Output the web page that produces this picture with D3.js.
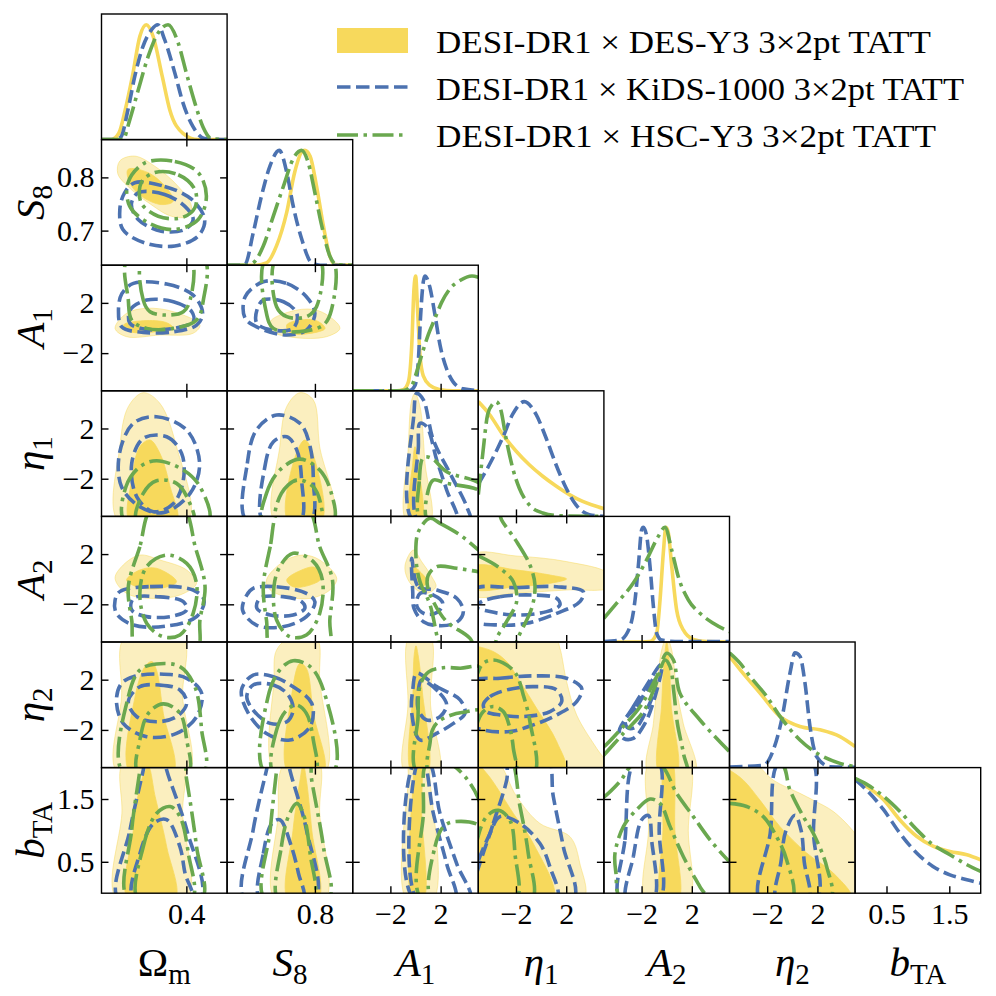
<!DOCTYPE html>
<html>
<head>
<meta charset="utf-8">
<script src="https://cdn.jsdelivr.net/npm/d3@7"></script>
<style>
  body { margin: 0; background: #fff; }
  svg text { font-family: "Liberation Serif", "DejaVu Serif", serif; fill: #000; }
</style>
</head>
<body>
<div id="chart"></div>
<script>
// corner plot, 7 parameters
var svgWidth = 996;
var svgHeight = 996;
var panel = 125.6;
var left0 = 101.5;
var top0 = 14;

var params = ["om", "s8", "a1", "eta1", "a2", "eta2", "bta"];
var domains = {
  om: [0.15, 0.52], s8: [0.635, 0.871], a1: [-5, 5], eta1: [-5, 5],
  a2: [-5, 5], eta2: [-5, 5], bta: [0, 2]
};
var xTicks = { om: [0.4], s8: [0.8], a1: [-2, 2], eta1: [-2, 2], a2: [-2, 2], eta2: [-2, 2], bta: [0.5, 1.5] };
var yTicks = { s8: [0.7, 0.8], a1: [-2, 2], eta1: [-2, 2], a2: [-2, 2], eta2: [-2, 2], bta: [0.5, 1.5] };

var legendLabels = [
  "DESI-DR1 \u00d7 DES-Y3 3\u00d72pt TATT",
  "DESI-DR1 \u00d7 KiDS-1000 3\u00d72pt TATT",
  "DESI-DR1 \u00d7 HSC-Y3 3\u00d72pt TATT"
];

// 1D marginals, [value, relative density]
var margOm = {
  des: [[0.15,0],[0.179,0],[0.201,0.055],[0.220,0.26],[0.241,0.55],[0.263,0.9],[0.282,1],[0.302,0.9],[0.329,0.55],[0.351,0.26],[0.390,0.055],[0.434,0],[0.52,0]],
  kids: [[0.15,0],[0.194,0],[0.208,0.026],[0.228,0.26],[0.248,0.55],[0.272,0.81],[0.297,0.955],[0.316,1],[0.336,0.87],[0.366,0.58],[0.390,0.32],[0.420,0.11],[0.454,0.01],[0.52,0]],
  hsc: [[0.15,0],[0.213,0],[0.233,0.17],[0.258,0.43],[0.287,0.72],[0.316,0.925],[0.346,1],[0.375,0.85],[0.400,0.58],[0.425,0.32],[0.449,0.11],[0.473,0.01],[0.52,0]]
};
var margS8 = {
  des: [[0.635,0],[0.690,0],[0.709,0.02],[0.728,0.17],[0.747,0.46],[0.762,0.81],[0.775,0.985],[0.781,1],[0.791,0.95],[0.803,0.69],[0.816,0.34],[0.828,0.08],[0.838,0.005],[0.871,0]],
  kids: [[0.635,0],[0.660,0],[0.669,0.01],[0.684,0.28],[0.700,0.61],[0.716,0.87],[0.733,1],[0.747,0.81],[0.759,0.52],[0.775,0.23],[0.794,0.02],[0.810,0],[0.871,0]],
  hsc: [[0.635,0],[0.670,0],[0.684,0.02],[0.703,0.167],[0.722,0.43],[0.741,0.69],[0.759,0.925],[0.775,1],[0.787,0.9],[0.800,0.63],[0.813,0.34],[0.828,0.08],[0.841,0.005],[0.871,0]]
};
var margA1 = {
  des: [[-5,0],[-1.5,0],[-0.97,0.01],[-0.57,0.076],[-0.30,0.395],[-0.12,0.89],[0.01,1],[0.17,0.69],[0.36,0.31],[0.62,0.13],[1.15,0.047],[1.95,0.01],[3,0],[5,0]],
  kids: [[-5,0],[-1,0],[-0.44,0.003],[-0.04,0.047],[0.22,0.25],[0.41,0.66],[0.62,0.95],[0.75,1],[1.15,0.9],[1.55,0.66],[1.95,0.4],[2.48,0.19],[3.01,0.076],[3.80,0.017],[5,0.003]],
  hsc: [[-5,0],[-1.5,0],[-0.97,0.003],[-0.30,0.047],[0.09,0.163],[0.49,0.31],[1.02,0.49],[1.55,0.63],[2.08,0.77],[2.75,0.89],[3.54,0.96],[4.5,1],[5,0.99]]
};
var margEta1 = {
  des: [[-5,1],[-4.12,0.89],[-3.06,0.714],[-2.0,0.57],[-0.94,0.45],[0.13,0.35],[1.19,0.265],[2.25,0.19],[3.31,0.13],[5,0.067]],
  kids: [[-5,0.28],[-4.12,0.45],[-3.06,0.685],[-2.26,0.89],[-1.34,1],[-0.41,0.89],[0.39,0.685],[1.19,0.45],[1.98,0.25],[2.78,0.1],[3.84,0.015],[5,0]],
  hsc: [[-5,0.19],[-4.65,0.54],[-4.25,0.89],[-3.85,0.98],[-3.59,1],[-3.19,0.92],[-2.80,0.685],[-2.26,0.42],[-1.74,0.247],[-0.94,0.1],[0.13,0.03],[1.45,0.006],[5,0]]
};
var margA2 = {
  des: [[-5,0],[-2,0],[-1.33,0.003],[-0.80,0.076],[-0.53,0.367],[-0.27,0.775],[-0.06,1],[0.13,0.95],[0.40,0.66],[0.79,0.28],[1.32,0.105],[2.12,0.023],[3.18,0.003],[5,0]],
  kids: [[-5,0.003],[-3.72,0.017],[-2.92,0.134],[-2.52,0.367],[-2.26,0.66],[-1.99,0.98],[-1.86,1],[-1.59,0.92],[-1.33,0.66],[-1.06,0.31],[-0.80,0.076],[-0.40,0.017],[1.06,0.003],[5,0.003]],
  hsc: [[-5,0.207],[-3.98,0.338],[-2.66,0.513],[-1.59,0.717],[-0.67,0.92],[-0.14,1],[0.40,0.80],[0.92,0.57],[1.72,0.367],[2.65,0.25],[3.71,0.163],[5,0.09]]
};
var margEta2 = {
  des: [[-5,0.97],[-4.16,0.854],[-2.57,0.65],[-0.98,0.446],[0.61,0.358],[2.2,0.329],[3.8,0.27],[5,0.183]],
  kids: [[-5,0.005],[-2.31,0.02],[-1.51,0.154],[-0.85,0.416],[-0.18,0.825],[0.21,1],[0.61,0.97],[1.01,0.737],[1.41,0.358],[1.94,0.095],[3.0,0.008],[5,0.003]],
  hsc: [[-5,1],[-4.16,0.91],[-3.37,0.795],[-2.04,0.62],[-0.98,0.446],[0.61,0.241],[2.2,0.11],[3.8,0.037],[5,0.008]]
};
var margBta = {
  des: [[0,0.99],[0.18,0.93],[0.45,0.816],[0.71,0.64],[0.98,0.496],[1.24,0.41],[1.51,0.364],[1.78,0.335],[2,0.29]],
  kids: [[0,0.99],[0.18,0.90],[0.45,0.73],[0.71,0.525],[0.98,0.35],[1.24,0.233],[1.51,0.16],[1.78,0.117],[2,0.087]],
  hsc: [[0,1],[0.18,0.95],[0.45,0.845],[0.71,0.714],[0.98,0.554],[1.24,0.423],[1.51,0.335],[1.78,0.248],[2,0.19]]
};

// 2D contours [95%, 68%] per dataset, points are [column param, row param]
var S8_Om = {
  des: [[[0.204,0.831],[0.248,0.840],[0.307,0.821],[0.376,0.783],[0.415,0.746],[0.405,0.727],[0.356,0.727],[0.287,0.753],[0.228,0.783],[0.198,0.807]],
        [[0.228,0.815],[0.287,0.809],[0.346,0.777],[0.361,0.755],[0.326,0.749],[0.267,0.765],[0.233,0.790]]],
  kids: [[[0.248,0.790],[0.336,0.783],[0.415,0.759],[0.454,0.721],[0.435,0.690],[0.366,0.671],[0.277,0.677],[0.213,0.702],[0.204,0.740],[0.218,0.771]],
         [[0.258,0.771],[0.336,0.768],[0.395,0.746],[0.420,0.721],[0.395,0.702],[0.326,0.699],[0.258,0.721],[0.238,0.749]]],
  hsc: [[[0.277,0.827],[0.366,0.830],[0.435,0.809],[0.459,0.765],[0.435,0.721],[0.366,0.702],[0.287,0.715],[0.233,0.746],[0.228,0.790]],
        [[0.307,0.809],[0.376,0.805],[0.425,0.777],[0.425,0.743],[0.385,0.724],[0.317,0.727],[0.267,0.752],[0.267,0.790]]]
};
var A1_Om = {
  des: [[[0.190,-0.03],[0.224,1.17],[0.283,1.57],[0.362,1.30],[0.440,0.24],[0.420,-0.42],[0.322,-0.56],[0.224,-0.69]],
        [[0.215,0.24],[0.273,0.58],[0.342,0.42],[0.362,-0.03],[0.312,-0.29],[0.234,-0.29]]],
  kids: [[[0.244,3.55],[0.342,3.50],[0.420,2.62],[0.448,1.16],[0.430,0.23],[0.362,-0.30],[0.273,-0.35],[0.210,0.07],[0.200,1.40],[0.210,2.73]],
         [[0.283,2.22],[0.362,2.09],[0.416,1.30],[0.420,0.50],[0.362,-0.03],[0.283,-0.11],[0.234,0.37],[0.234,1.43]]],
  hsc: [[[0.229,5.6],[0.229,2.22],[0.239,0.63],[0.283,-0.03],[0.362,-0.03],[0.430,0.63],[0.450,2.22],[0.450,5.6]],
        [[0.273,5.6],[0.273,2.22],[0.293,1.30],[0.342,1.03],[0.391,1.30],[0.411,2.22],[0.411,5.6]]]
};
var A1_S8 = {
  des: [[[0.716,0.50],[0.753,1.30],[0.797,1.48],[0.828,0.90],[0.847,-0.03],[0.822,-0.69],[0.759,-0.75],[0.722,-0.30]],
        [[0.747,0.24],[0.772,0.63],[0.803,0.58],[0.819,-0.03],[0.791,-0.43],[0.753,-0.38]]],
  kids: [[[0.703,3.68],[0.747,3.55],[0.784,2.49],[0.800,1.16],[0.784,-0.17],[0.747,-0.56],[0.697,-0.03],[0.669,0.77],[0.669,2.49]],
         [[0.703,2.22],[0.741,2.09],[0.766,1.16],[0.759,-0.03],[0.722,-0.17],[0.691,0.37],[0.691,1.43]]],
  hsc: [[[0.709,5.6],[0.709,1.16],[0.722,-0.03],[0.772,-0.29],[0.816,0.24],[0.831,1.43],[0.831,5.6]],
        [[0.728,5.6],[0.728,1.69],[0.747,0.90],[0.784,0.90],[0.803,1.69],[0.808,5.6]]]
};
var Eta1_Om = {
  des: [[[0.200,-5.4],[0.204,0.55],[0.229,3.74],[0.273,4.85],[0.322,4.0],[0.371,0.55],[0.405,-5.4]],
        [[0.234,-5.4],[0.239,-2.1],[0.263,0.55],[0.293,1.08],[0.322,0.02],[0.352,-2.63],[0.371,-5.4]]],
  kids: [[[0.244,2.41],[0.312,2.94],[0.401,1.88],[0.439,-0.78],[0.411,-3.17],[0.332,-4.7],[0.263,-4.23],[0.209,-2.64],[0.203,0.02]],
         [[0.273,1.21],[0.342,1.34],[0.386,0.02],[0.391,-2.11],[0.362,-3.97],[0.303,-4.63],[0.254,-3.44],[0.239,-0.78]]],
  hsc: [[[0.219,-5.4],[0.222,-2.64],[0.263,-1.05],[0.312,-0.57],[0.391,-1.31],[0.440,-2.64],[0.465,-5.4]],
        [[0.254,-5.4],[0.273,-3.17],[0.312,-2.16],[0.371,-2.37],[0.406,-3.7],[0.420,-5.4]]]
};
var Eta1_S8 = {
  des: [[[0.725,-5.4],[0.734,0.55],[0.747,3.74],[0.772,4.85],[0.797,4.27],[0.809,0.55],[0.834,-5.4]],
        [[0.750,-5.4],[0.759,-0.78],[0.781,1.08],[0.800,-0.51],[0.812,-5.4]]],
  kids: [[[0.672,-5.4],[0.673,-0.78],[0.690,1.88],[0.728,3.07],[0.772,2.41],[0.791,0.55],[0.797,-2.11],[0.791,-5.4]],
         [[0.703,-5.4],[0.706,-1.04],[0.722,0.94],[0.747,1.34],[0.766,0.28],[0.775,-2.11],[0.772,-5.4]]],
  hsc: [[[0.703,-5.4],[0.709,-3.17],[0.734,-1.31],[0.772,-0.44],[0.809,-1.31],[0.831,-3.17],[0.834,-5.4]],
        [[0.728,-5.4],[0.737,-3.17],[0.766,-2.11],[0.797,-2.64],[0.812,-4.23],[0.812,-5.4]]]
};
var Eta1_A1 = {
  des: [[[-0.7,-5.4],[-0.57,0.55],[-0.3,4.27],[-0.04,4.8],[0.36,3.74],[0.76,-0.77],[1.16,-5.4]],
        [[-0.44,-5.4],[-0.22,-0.77],[-0.04,0.55],[0.23,-1.04],[0.49,-5.4]]],
  kids: [[[-0.17,-5.4],[-0.12,3.2],[0.1,4.8],[0.63,4.27],[1.42,1.08],[2.75,-1.57],[4.08,-4.23],[4.34,-5.4]],
         [[0.23,-5.4],[0.23,0.55],[0.36,2.41],[0.89,2.14],[1.69,-0.51],[2.48,-2.9],[3.28,-5.4]]],
  hsc: [[[0.49,-5.4],[0.31,-2.11],[0.63,-0.3],[1.29,-0.38],[2.48,-1.44],[5.4,-2.63],[5.4,-5.4]],
        [[1.02,-5.4],[1.02,-2.9],[1.42,-2.11],[2.48,-2.37],[5.4,-3.17],[5.4,-5.4]]]
};
var A2_Om = {
  des: [[[0.190,0.07],[0.214,1.13],[0.263,1.92],[0.322,1.53],[0.401,0.73],[0.430,-0.33],[0.381,-1.26],[0.303,-1.53],[0.224,-1.13]],
        [[0.224,-0.06],[0.263,0.73],[0.312,0.87],[0.371,-0.2],[0.322,-0.73],[0.254,-0.6]]],
  kids: [[[0.204,-0.99],[0.293,-0.59],[0.420,-0.86],[0.452,-1.66],[0.430,-2.98],[0.342,-3.73],[0.244,-3.65],[0.194,-2.72],[0.190,-1.66]],
         [[0.244,-1.52],[0.312,-1.39],[0.391,-1.79],[0.401,-2.45],[0.362,-2.93],[0.283,-2.98],[0.239,-2.45]]],
  hsc: [[[0.298,5.6],[0.263,2.59],[0.229,-0.6],[0.239,-3.25],[0.254,-5.6],[0.430,-5.6],[0.440,-3.25],[0.455,-0.6],[0.426,2.59],[0.391,5.6]],
        [[0.342,1.92],[0.401,1.26],[0.430,-0.33],[0.420,-2.72],[0.381,-4.44],[0.332,-4.58],[0.283,-3.51],[0.263,-1.13],[0.283,0.99]]]
};
var A2_S8 = {
  des: [[[0.709,-0.06],[0.741,1.4],[0.778,1.92],[0.809,1.53],[0.841,0.07],[0.828,-0.86],[0.791,-1.53],[0.747,-1.39],[0.716,-0.86]],
        [[0.747,-0.06],[0.775,0.73],[0.800,0.94],[0.812,0.07],[0.791,-0.46],[0.759,-0.6]]],
  kids: [[[0.684,-0.73],[0.728,-0.6],[0.784,-1.13],[0.800,-1.79],[0.784,-2.98],[0.740,-3.78],[0.690,-3.65],[0.664,-2.45],[0.672,-1.26]],
         [[0.697,-1.52],[0.740,-1.39],[0.775,-1.79],[0.781,-2.32],[0.759,-2.85],[0.716,-2.85],[0.691,-2.32]]],
  hsc: [[[0.734,5.6],[0.716,2.59],[0.703,-0.6],[0.709,-3.25],[0.719,-5.6],[0.825,-5.6],[0.828,-3.25],[0.833,-0.06],[0.809,2.59],[0.787,5.6]],
        [[0.759,2.06],[0.797,1.4],[0.814,-0.06],[0.809,-2.72],[0.784,-4.44],[0.753,-4.58],[0.728,-3.25],[0.723,-0.6],[0.734,0.99]]]
};
var A2_A1 = {
  des: [[[-0.17,2.32],[0.49,1.4],[1.29,0.2],[1.63,-0.6],[0.89,-1.13],[0.1,-0.86],[-0.65,0.07],[-0.83,1.13]],
        [[-0.3,1.13],[0.23,0.73],[0.94,-0.2],[0.41,-0.6],[-0.22,0.07]]],
  kids: [[[-0.3,1.66],[0.23,-0.6],[1.69,-0.86],[3.28,-1.52],[3.81,-2.58],[3.28,-3.43],[1.95,-3.7],[0.63,-3.38],[-0.12,-2.32],[-0.22,-1.0]],
         [[0.36,-1.13],[1.42,-1.26],[2.17,-1.92],[1.74,-2.64],[0.76,-2.77],[0.1,-2.11]]],
  hsc: [[[1.16,4.85],[1.95,4.45],[3.55,3.52],[5.0,2.33],[6.5,1.0],[6.5,-6],[2.2,-6],[1.82,-4.97],[1.16,-2.05],[0.36,-0.2],[0.04,1.66],[0.23,3.78]],
        [[1.02,0.33],[1.69,1.0],[3.28,0.87],[5.0,0.6],[6.5,0.4],[6.5,-6],[5.0,-6],[4.34,-4.71],[2.48,-3.38],[1.42,-1.79],[0.94,-0.46]]]
};
var A2_Eta1 = {
  des: [[[-5.4,1.95],[-2,1.85],[2.03,1.4],[5.4,0.4],[5.4,-0.65],[2.03,-0.86],[-2,-1.1],[-5.4,-1.26]],
        [[-5.4,1.0],[-1.95,0.73],[0.71,0.33],[2.03,0.02],[0.71,-0.33],[-1.95,-0.6],[-5.4,-0.73]]],
  kids: [[[-5.4,-0.86],[-1.95,-0.67],[1.24,-0.6],[3.36,-0.99],[3.09,-1.79],[1.24,-2.72],[-1.15,-3.51],[-3.27,-3.65],[-5.4,-3.25]],
         [[-4.73,-1.79],[-3.27,-1.39],[-0.62,-1.26],[1.24,-1.52],[1.5,-2.05],[0.44,-2.58],[-1.95,-2.85],[-4.07,-2.58],[-5.2,-2.2]]],
  hsc: [[[-3.14,4.71],[-1.95,2.99],[-0.89,1.13],[-0.49,-0.46],[-0.75,-2.32],[-1.95,-4.97],[-2.1,-6],[-6,-6],[-6,5.6],[-3.5,5.6]],
        [[-5.4,2.0],[-4.87,1.79],[-3.27,0.87],[-2.21,-0.2],[-1.95,-1.79],[-2.75,-3.38],[-3.54,-4.71],[-3.8,-6],[-6,-6],[-6,2.0]]]
};
var Eta2_Om = {
  des: [[[0.197,-5.4],[0.209,0.65],[0.219,5.4],[0.389,5.4],[0.389,0.65],[0.406,-5.4]],
        [[0.234,-5.4],[0.249,0.65],[0.278,3.04],[0.298,3.44],[0.312,2.77],[0.332,-0.68],[0.361,-5.4]]],
  kids: [[[0.244,2.24],[0.322,2.45],[0.401,2.11],[0.445,0.91],[0.430,-0.95],[0.371,-2.28],[0.283,-2.54],[0.214,-1.48],[0.194,0.38],[0.209,1.71]],
         [[0.263,1.44],[0.322,1.57],[0.381,1.18],[0.401,0.12],[0.371,-0.95],[0.312,-1.35],[0.254,-0.95],[0.229,0.25]]],
  hsc: [[[0.214,-5.4],[0.229,0.65],[0.263,2.77],[0.312,3.25],[0.381,3.04],[0.425,1.44],[0.445,-2.01],[0.450,-5.4]],
        [[0.258,-5.4],[0.263,-2.81],[0.288,-0.68],[0.332,0.07],[0.381,-0.68],[0.401,-2.81],[0.406,-5.4]]]
};
var Eta2_S8 = {
  des: [[[0.725,-5.4],[0.723,1.98],[0.728,4.37],[0.753,5.3],[0.803,5.3],[0.809,1.98],[0.819,-5.4]],
        [[0.750,-5.4],[0.756,0.65],[0.772,3.3],[0.784,2.9],[0.797,-0.68],[0.816,-5.4]]],
  kids: [[[0.684,2.37],[0.722,2.24],[0.759,1.44],[0.794,0.12],[0.791,-1.74],[0.753,-2.81],[0.709,-2.28],[0.675,-0.68],[0.662,1.18]],
         [[0.684,1.58],[0.722,1.58],[0.750,0.78],[0.759,-0.42],[0.747,-1.35],[0.716,-1.48],[0.684,-0.42],[0.672,0.65]]],
  hsc: [[[0.706,-5.4],[0.712,0.65],[0.734,2.77],[0.759,3.51],[0.791,3.04],[0.816,1.18],[0.834,-5.4]],
        [[0.722,-5.4],[0.728,-2.01],[0.747,-0.42],[0.766,-0.02],[0.784,-0.68],[0.797,-2.81],[0.800,-5.4]]]
};
var Eta2_A1 = {
  des: [[[-0.83,-5.4],[-0.6,0],[-0.49,5.4],[1.16,5.4],[1.2,0],[1.82,-5.4]],
        [[-0.3,-5.4],[-0.2,1.0],[-0.1,4.0],[0.04,4.7],[0.2,4.0],[0.55,1.0],[0.94,-5.4]]],
  kids: [[[0.1,2.51],[1.69,1.45],[3.55,0.39],[3.94,-0.68],[3.02,-1.48],[1.69,-2.27],[0.36,-2.8],[-0.3,-0.68],[-0.22,1.18]],
         [[0.49,1.97],[1.95,0.91],[2.48,-0.01],[1.95,-0.94],[0.89,-1.21],[0.23,-0.41],[0.23,1.18]]],
  hsc: [[[0.15,-5.4],[0.2,-1.0],[0.36,1.5],[1.02,2.6],[2.2,2.95],[3.55,2.91],[5.4,2.91],[5.4,-5.4]],
        [[1.1,-5.4],[1.16,-3.0],[1.35,-2.0],[1.82,-1.34],[2.75,-0.85],[3.81,-0.6],[5.4,-0.54],[5.4,-5.4]]]
};
var Eta2_Eta1 = {
  des: [[[-5.4,5.4],[1.1,5.4],[1.5,4.5],[2.03,1.85],[2.83,-0.81],[4.42,-3.46],[5.2,-4.6],[5.4,-5.6],[-5.4,-5.6]],
        [[-5.4,4.7],[-5.0,4.63],[-3.81,4.24],[-2.74,3.44],[-1.68,1.85],[-0.36,-0.28],[1.24,-2.93],[1.9,-5.4],[-5.4,-5.6]]],
  kids: [[[-5.4,1.85],[-3.27,2.11],[-0.62,2.3],[2.03,2.11],[3.23,1.32],[2.83,0.25],[1.24,-0.81],[-0.62,-1.6],[-2.48,-2.13],[-4.6,-2.0],[-5.4,-1.6]],
         [[-4.6,-0.01],[-4.07,0.65],[-2.74,1.18],[-0.62,1.45],[1.24,1.18],[1.64,0.25],[0.71,-0.54],[-1.42,-0.94],[-3.27,-0.81],[-4.34,-0.54]]],
  hsc: [[[-5.4,-5.6],[-5.3,1.5],[-5.0,2.64],[-4.6,3.31],[-3.81,3.57],[-2.74,3.17],[-1.95,2.38],[-1.42,0.79],[-0.89,-1.34],[-0.62,-5.6]],
        [[-5.4,-5.6],[-5.2,-1.87],[-4.6,-0.54],[-3.81,-0.14],[-3.01,-0.54],[-2.48,-1.87],[-2.21,-3.46],[-2.08,-5.6]]]
};
var Eta2_A2 = {
  des: [[[-1.46,-5.4],[-1.06,-1.48],[-0.8,1.18],[-0.4,4.36],[0.0,5.4],[0.4,4.36],[0.79,1.18],[1.32,-1.48],[2.25,-5.4]],
        [[-0.59,-5.4],[-0.4,0.0],[-0.2,3.5],[0.0,5.0],[0.2,3.5],[0.35,0.0],[0.79,-5.4]]],
  kids: [[[-3.72,-1.87],[-2.66,-0.15],[-1.33,1.97],[-0.53,3.17],[-0.4,3.17],[-0.93,0.65],[-1.73,-1.48],[-2.66,-2.67],[-3.45,-2.67],[-3.77,-2.14]],
         [[-3.32,-1.21],[-2.39,-0.15],[-1.6,1.18],[-0.93,2.24],[-1.06,0.91],[-1.73,-0.68],[-2.39,-1.74],[-3.05,-1.87]]],
  hsc: [[[-5.6,-3.8],[-5.0,-3.34],[-3.72,-2.01],[-2.12,-0.15],[-0.8,2.24],[0.0,4.1],[0.53,3.57],[1.06,0.91],[2.65,-1.21],[5.0,-3.73],[5.6,-4.3],[5.6,-5.8],[-5.6,-5.8]],
        [[-5.6,-4.6],[-5.0,-4.0],[-3.45,-2.27],[-1.86,-0.55],[-0.93,1.44],[-0.13,3.57],[0.27,3.04],[0.58,0.91],[0.85,-1.48],[1.33,-3.86],[1.6,-5.8],[-5.6,-5.8]]]
};
var Bta_Om = {
  des: [[[0.195,-0.1],[0.210,1.27],[0.217,2.1],[0.386,2.1],[0.389,1.27],[0.401,-0.1]],
        [[0.229,-0.1],[0.244,1.01],[0.268,1.80],[0.288,2.01],[0.308,1.54],[0.342,0.74],[0.366,-0.1]]],
  kids: [[[0.200,-0.1],[0.234,1.01],[0.273,1.96],[0.283,2.22],[0.332,2.22],[0.342,1.96],[0.401,1.01],[0.440,-0.1]],
         [[0.244,-0.1],[0.263,0.63],[0.303,1.11],[0.342,1.17],[0.381,0.74],[0.396,0.32],[0.416,-0.1]]],
  hsc: [[[0.229,-0.1],[0.239,1.01],[0.263,1.96],[0.268,2.22],[0.386,2.22],[0.401,1.80],[0.430,0.74],[0.445,-0.1]],
        [[0.258,-0.1],[0.273,0.74],[0.312,1.27],[0.352,1.38],[0.381,1.22],[0.406,0.63],[0.416,-0.1]]]
};
var Bta_S8 = {
  des: [[[0.725,-0.1],[0.731,1.27],[0.734,1.91],[0.747,2.1],[0.806,2.1],[0.809,1.27],[0.819,-0.1]],
        [[0.750,-0.1],[0.759,1.01],[0.772,1.80],[0.778,2.05],[0.784,1.80],[0.794,1.01],[0.806,-0.1]]],
  kids: [[[0.668,-0.1],[0.684,1.01],[0.709,1.96],[0.716,2.22],[0.747,2.22],[0.753,1.96],[0.784,1.01],[0.800,-0.1]],
         [[0.697,-0.1],[0.703,0.63],[0.719,1.11],[0.734,1.17],[0.756,0.74],[0.769,0.32],[0.778,-0.1]]],
  hsc: [[[0.706,-0.1],[0.716,1.01],[0.728,1.96],[0.731,2.22],[0.787,2.22],[0.794,1.80],[0.816,0.74],[0.825,-0.1]],
        [[0.731,-0.1],[0.737,0.74],[0.750,1.22],[0.766,1.43],[0.778,1.27],[0.791,0.63],[0.797,-0.1]]]
};
var Bta_A1 = {
  des: [[[-0.7,-0.1],[-0.57,1.8],[-0.44,2.1],[1.02,2.1],[1.16,1.8],[1.42,-0.1]],
        [[-0.23,-0.1],[-0.17,1.8],[-0.04,2.1],[0.36,2.1],[0.49,1.27],[0.62,-0.1]]],
  kids: [[[-0.12,-0.1],[-0.04,2.1],[1.02,2.1],[1.95,1.27],[3.28,0.47],[4.34,-0.1]],
         [[0.15,-0.1],[0.23,2.1],[0.63,2.1],[1.42,1.27],[2.48,0.47],[3.15,-0.1]]],
  hsc: [[[0.49,-0.1],[0.63,1.27],[0.94,2.1],[2.48,2.1],[5.0,1.51],[5.4,-0.1]],
        [[1.29,-0.1],[1.55,0.74],[2.22,1.06],[3.15,1.14],[5.4,1.03],[5.4,-0.1]]]
};
var Bta_Eta1 = {
  des: [[[-5.4,2.1],[-3.54,2.1],[-1.95,1.54],[-0.09,1.11],[2.3,0.9],[3.09,0.47],[3.36,-0.1],[-5.4,-0.1]],
        [[-5.4,2.1],[-4.34,1.91],[-2.21,1.27],[-0.62,0.79],[0.97,-0.1],[-5.4,-0.1]]],
  kids: [[[-5.4,0.1],[-3.81,1.11],[-2.74,1.80],[-2.48,2.2],[0.44,2.2],[0.97,1.54],[1.77,0.74],[2.56,-0.1],[-5.4,-0.1]],
         [[-5.4,-0.1],[-5.4,0.25],[-4.07,0.95],[-3.27,1.22],[-1.68,1.11],[-0.09,0.79],[0.7,0.42],[1.24,-0.1]]],
  hsc: [[[-5.4,-0.1],[-5.4,1.8],[-4.87,2.2],[-2.61,2.2],[-1.68,1.38],[-1.02,0.63],[-0.75,-0.1]],
        [[-5.4,-0.1],[-5.2,0.74],[-4.34,1.22],[-3.41,1.32],[-2.48,1.16],[-2.08,0.63],[-2.0,-0.1]]]
};
var Bta_A2 = {
  des: [[[-1.6,-0.1],[-1.45,1.0],[-1.33,2.1],[1.72,2.1],[1.72,1.0],[1.72,-0.1]],
        [[-0.4,-0.1],[-0.3,1.0],[-0.13,2.1],[0.4,2.1],[0.65,1.0],[0.92,-0.1]]],
  kids: [[[-3.72,-0.1],[-3.32,0.85],[-2.52,2.1],[-0.67,2.1],[-0.6,1.0],[-0.59,-0.1]],
         [[-3.19,-0.1],[-2.66,0.58],[-1.99,1.17],[-1.46,1.24],[-1.2,0.85],[-1.06,-0.1]]],
  hsc: [[[-5.6,1.45],[-5.0,1.53],[-3.72,1.78],[-2.66,2.05],[-0.53,2.05],[0.79,1.59],[2.12,1.22],[3.45,0.85],[5.0,0.5],[5.6,0.4],[5.6,-0.2],[-5.6,-0.2]],
        [[-3.59,-0.1],[-4.04,0.32],[-4.12,0.63],[-3.45,1.06],[-2.39,1.33],[-1.33,1.5],[-0.53,1.43],[0.27,1.06],[1.33,0.58],[2.65,0.1],[3.2,-0.1]]]
};
var Bta_Eta2 = {
  des: [[[-5.4,2.1],[-3.24,2.1],[-1.51,1.8],[0.61,1.59],[1.68,1.48],[3.27,1.3],[5.0,0.95],[5.4,0.8],[5.4,-0.1],[-5.4,-0.1]],
        [[-5.4,2.0],[-5.0,1.96],[-3.9,1.8],[-2.57,1.48],[-0.98,1.06],[1.14,0.64],[3.27,0.32],[4.73,-0.1],[-5.4,-0.1]]],
  kids: [[[-2.56,-0.1],[-1.76,0.95],[-1.02,2.1],[1.55,2.1],[1.69,0.95],[1.9,-0.1]],
         [[-1.25,-0.1],[-0.9,0.5],[-0.5,1.0],[0.22,1.24],[0.7,1.0],[0.95,0.5],[1.28,-0.1]]],
  hsc: [[[-5.4,2.1],[-0.98,2.1],[-0.18,1.64],[0.88,1.22],[1.68,0.95],[2.74,0.42],[3.0,-0.1],[-5.4,-0.1]],
        [[-5.4,1.43],[-5.0,1.43],[-3.63,1.38],[-2.31,1.22],[-1.25,0.9],[-0.45,0.53],[-0.05,-0.1],[-5.4,-0.1]]]
};

// lookup tables built from the arrays above
var marginals = [margOm, margS8, margA1, margEta1, margA2, margEta2, margBta];
var contours = {
  "1,0": S8_Om,
  "2,0": A1_Om, "2,1": A1_S8,
  "3,0": Eta1_Om, "3,1": Eta1_S8, "3,2": Eta1_A1,
  "4,0": A2_Om, "4,1": A2_S8, "4,2": A2_A1, "4,3": A2_Eta1,
  "5,0": Eta2_Om, "5,1": Eta2_S8, "5,2": Eta2_A1, "5,3": Eta2_Eta1, "5,4": Eta2_A2,
  "6,0": Bta_Om, "6,1": Bta_S8, "6,2": Bta_A1, "6,3": Bta_Eta1, "6,4": Bta_A2, "6,5": Bta_Eta2
};

// styles
var yellowDark = "#f7d95c";
var yellowLight = "#fbefbf";
var blue = "#4c72b0";
var green = "#6aa84f";
var lw = 3.6;
var dashBlue = "13,5.5";
var dashGreen = "21,5.5,3.5,5.5";

function fmt(d) {
  return d < 0 ? "\u2212" + Math.abs(d) : String(d);
}

var svg = d3.select("#chart")
  .append("svg")
  .attr("width", svgWidth)
  .attr("height", svgHeight);

var defs = svg.append("defs");
var content = svg.append("g");
var frames = svg.append("g");

for (var i = 0; i < 7; i++) {
  for (var j = 0; j <= i; j++) {
    var L = left0 + j * panel;
    var T = top0 + i * panel;
    var clipId = "clip-" + i + "-" + j;
    defs.append("clipPath").attr("id", clipId)
      .append("rect").attr("x", L).attr("y", T).attr("width", panel).attr("height", panel);

    var xs = d3.scaleLinear().domain(domains[params[j]]).range([L, L + panel]);
    var g = content.append("g").attr("clip-path", "url(#" + clipId + ")");

    if (i === j) {
      var ys1 = d3.scaleLinear().domain([0, 1.094]).range([T + panel, T]);
      var line1 = d3.line()
        .x(d => xs(d[0]))
        .y(d => ys1(d[1]))
        .curve(d3.curveMonotoneX);
      var m = marginals[i];
      g.append("path").attr("d", line1(m.des)).attr("fill", "none")
        .attr("stroke", yellowDark).attr("stroke-width", lw);
      g.append("path").attr("d", line1(m.kids)).attr("fill", "none")
        .attr("stroke", blue).attr("stroke-width", lw).attr("stroke-dasharray", dashBlue);
      g.append("path").attr("d", line1(m.hsc)).attr("fill", "none")
        .attr("stroke", green).attr("stroke-width", lw).attr("stroke-dasharray", dashGreen);
    } else {
      var ys = d3.scaleLinear().domain(domains[params[i]]).range([T + panel, T]);
      var line2 = d3.line()
        .x(d => xs(d[0]))
        .y(d => ys(d[1]))
        .curve(d3.curveCatmullRomClosed.alpha(0.5));
      var c = contours[i + "," + j];
      // filled DES contours
      g.append("path").attr("d", line2(c.des[0])).attr("fill", yellowLight)
        .attr("stroke", yellowDark).attr("stroke-width", 0.8).attr("stroke-opacity", 0.6);
      g.append("path").attr("d", line2(c.des[1])).attr("fill", yellowDark)
        .attr("stroke", yellowDark).attr("stroke-width", 0.8);
      // KiDS and HSC as lines
      c.kids.forEach(function(ring) {
        g.append("path").attr("d", line2(ring)).attr("fill", "none")
          .attr("stroke", blue).attr("stroke-width", lw).attr("stroke-dasharray", dashBlue);
      });
      c.hsc.forEach(function(ring) {
        g.append("path").attr("d", line2(ring)).attr("fill", "none")
          .attr("stroke", green).attr("stroke-width", lw).attr("stroke-dasharray", dashGreen);
      });
    }

    // frame
    frames.append("rect")
      .attr("x", L).attr("y", T).attr("width", panel).attr("height", panel)
      .attr("fill", "none").attr("stroke", "#000").attr("stroke-width", 1.4);

    // inward ticks
    var bottomAxis = d3.axisBottom(xs).tickValues(xTicks[params[j]]).tickSize(-7).tickFormat("");
    frames.append("g").attr("transform", `translate(0, ${T + panel})`).call(bottomAxis)
      .call(a => a.select(".domain").remove());
    if (i !== j) {
      var ysT = d3.scaleLinear().domain(domains[params[i]]).range([T + panel, T]);
      frames.append("g").attr("transform", `translate(0, ${T})`)
        .call(d3.axisTop(xs).tickValues(xTicks[params[j]]).tickSize(-7).tickFormat(""))
        .call(a => a.select(".domain").remove());
      frames.append("g").attr("transform", `translate(${L}, 0)`)
        .call(d3.axisLeft(ysT).tickValues(yTicks[params[i]]).tickSize(-7).tickFormat(""))
        .call(a => a.select(".domain").remove());
      frames.append("g").attr("transform", `translate(${L + panel}, 0)`)
        .call(d3.axisRight(ysT).tickValues(yTicks[params[i]]).tickSize(-7).tickFormat(""))
        .call(a => a.select(".domain").remove());
    }
  }
}
frames.selectAll(".tick line").attr("stroke", "#000").attr("stroke-width", 1.4);

// tick labels on the outer edges
for (var k = 0; k < 7; k++) {
  var xsL = d3.scaleLinear().domain(domains[params[k]]).range([left0 + k * panel, left0 + (k + 1) * panel]);
  var ax = svg.append("g")
    .attr("transform", `translate(0, ${top0 + 7 * panel})`)
    .call(d3.axisBottom(xsL).tickValues(xTicks[params[k]]).tickSize(0).tickPadding(10).tickFormat(fmt));
  ax.select(".domain").remove();
  ax.attr("font-size", 30).attr("font-family", null);
  if (k > 0) {
    var ysL = d3.scaleLinear().domain(domains[params[k]]).range([top0 + (k + 1) * panel, top0 + k * panel]);
    var ay = svg.append("g")
      .attr("transform", `translate(${left0}, 0)`)
      .call(d3.axisLeft(ysL).tickValues(yTicks[params[k]]).tickSize(0).tickPadding(7).tickFormat(fmt));
    ay.select(".domain").remove();
    ay.attr("font-size", 30).attr("font-family", null);
  }
}

// axis names
var axisNames = [
  { main: "\u03a9", sub: "m", italic: false },
  { main: "S", sub: "8", italic: true },
  { main: "A", sub: "1", italic: true },
  { main: "\u03b7", sub: "1", italic: true },
  { main: "A", sub: "2", italic: true },
  { main: "\u03b7", sub: "2", italic: true },
  { main: "b", sub: "TA", italic: true }
];

function writeName(sel, n) {
  sel.append("tspan").attr("font-style", n.italic ? "italic" : "normal").text(n.main);
  sel.append("tspan").attr("font-size", 29).attr("dy", 8).text(n.sub);
}

axisNames.forEach(function(n, k) {
  var t = svg.append("text")
    .attr("x", left0 + (k + 0.5) * panel)
    .attr("y", 976)
    .attr("text-anchor", "middle")
    .attr("font-size", 41);
  writeName(t, n);
  if (k > 0) {
    var cy = top0 + (k + 0.5) * panel;
    var r = svg.append("text")
      .attr("transform", `translate(44, ${cy}) rotate(-90)`)
      .attr("text-anchor", "middle")
      .attr("font-size", 41);
    writeName(r, n);
  }
});

// legend
var legend = svg.append("g");
legend.append("rect").attr("x", 337).attr("y", 28).attr("width", 71).attr("height", 25)
  .attr("fill", yellowDark);
legend.append("line").attr("x1", 337).attr("x2", 408).attr("y1", 87).attr("y2", 87)
  .attr("stroke", blue).attr("stroke-width", lw).attr("stroke-dasharray", "13.5,5.5");
legend.append("line").attr("x1", 337).attr("x2", 408).attr("y1", 135).attr("y2", 135)
  .attr("stroke", green).attr("stroke-width", lw).attr("stroke-dasharray", dashGreen);
var legendWidths = [495, 528, 500];
var legendBase = [52.5, 99.5, 146.5];
legendLabels.forEach(function(s, k) {
  legend.append("text")
    .attr("x", 436).attr("y", legendBase[k])
    .attr("font-size", 32)
    .attr("textLength", legendWidths[k])
    .attr("lengthAdjust", "spacingAndGlyphs")
    .text(s);
});
</script>
</body>
</html>
